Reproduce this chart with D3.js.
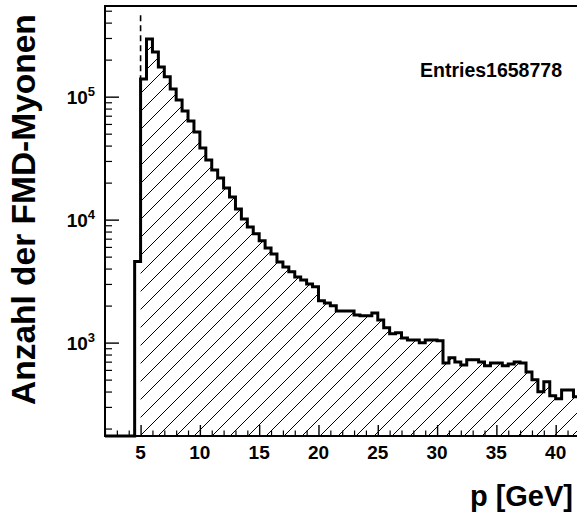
<!DOCTYPE html>
<html><head><meta charset="utf-8">
<script src="https://cdn.jsdelivr.net/npm/d3@7"></script>
<style>
html,body{margin:0;padding:0;background:#fff;}
svg{display:block;font-family:"Liberation Sans",Arial,Helvetica,sans-serif;font-weight:bold;}
</style></head>
<body>
<script>
// ---- data ----
const binStart = 2;       // GeV, low edge of first bin
const binWidth = 0.5;     // GeV
// counts per bin, bins from 2.0 GeV in steps of 0.5 GeV
const counts = [0,0,0,0,0,4560,
  139000,295000,231000,174000,145000,115500,94000,76500,63400,51600,
  38300,30600,25300,21800,18100,15300,12200,10100,8730,7660,
  6720,5890,5260,4530,4120,3760,3420,3235,3000,2840,
  2185,2100,1990,1810,1810,1810,1680,1650,1650,1740,
  1530,1320,1180,1200,1090,1052,1052,995,1052,1052,
  1033,684,752,697,659,724,724,697,647,684,
  684,647,671,697,684,578,498,398,480,369,
  349,412,412,362];
const cutValue = 5;                 // p cut (GeV), hatched above
const cutLineRange = [130000, 460000];
const xDomain = [2, 42];
const yDomain = [174, 546000];
const xMajor = [5,10,15,20,25,30,35,40];
const yMajorExp = [3,4,5];
const entriesLabel = "Entries";
const entriesValue = "1658778";
const xTitle = "p [GeV]";
const yTitle = "Anzahl der FMD-Myonen";

// ---- layout ----
const W = 577, H = 518;
const L = 105, T = 6, R = 579.4, B = 436;

const svg = d3.select("body").append("svg").attr("width", W).attr("height", H);
const x = d3.scaleLinear().domain(xDomain).range([L, R]);
const y = d3.scaleLog().domain(yDomain).range([B, T]);

const defs = svg.append("defs");
defs.append("clipPath").attr("id","clip").append("rect")
  .attr("x", L).attr("y", T).attr("width", R - L).attr("height", B - T + 2);
const pat = defs.append("pattern").attr("id","hatch").attr("patternUnits","userSpaceOnUse")
  .attr("width",18).attr("height",18);
pat.append("path").attr("d","M0,18 L18,0 M-4.5,4.5 L4.5,-4.5 M13.5,22.5 L22.5,13.5")
  .attr("stroke","#000").attr("stroke-width",1);

const bins = counts.map((c,i)=>({lo: binStart + i*binWidth, hi: binStart + (i+1)*binWidth, c}));
const yv = c => c > 0 ? y(c) : B;

// hatched part (p >= cut)
const hb = bins.filter(b => b.lo >= cutValue);
const hpts = [[x(hb[0].lo), B]];
hb.forEach(b => { hpts.push([x(b.lo), yv(b.c)]); hpts.push([x(b.hi), yv(b.c)]); });
hpts.push([x(hb[hb.length-1].hi), B]);
const g = svg.append("g").attr("clip-path","url(#clip)");
g.append("path").attr("d", d3.line()(hpts) + "Z").attr("fill","url(#hatch)").attr("stroke","none");

// outline
const opts = [[x(bins[0].lo), B]];
bins.forEach(b => { opts.push([x(b.lo), yv(b.c)]); opts.push([x(b.hi), yv(b.c)]); });
opts.push([x(bins[bins.length-1].hi), B]);
g.append("path").attr("d", d3.line()(opts)).attr("fill","none").attr("stroke","#000")
  .attr("stroke-width",3).attr("stroke-linejoin","miter");

// dashed cut line
g.append("line").attr("x1", x(cutValue)).attr("x2", x(cutValue))
  .attr("y1", y(cutLineRange[1])).attr("y2", y(cutLineRange[0]))
  .attr("stroke","#000").attr("stroke-width",1.6).attr("stroke-dasharray","6,4");

// frame
svg.append("rect").attr("x",L).attr("y",T).attr("width",R-L).attr("height",B-T)
  .attr("fill","none").attr("stroke","#000").attr("stroke-width",2);

// x axis ticks
const xMinor = d3.range(xDomain[0], xDomain[1]+1, 1).filter(v => !xMajor.includes(v));
svg.append("g").attr("transform",`translate(0,${B})`)
  .call(d3.axisBottom(x).tickValues(xMinor).tickSize(-5.5).tickFormat(""))
  .call(a => a.select(".domain").remove())
  .selectAll("line").attr("stroke-width",1.2);
svg.append("g").attr("transform",`translate(0,${B})`)
  .call(d3.axisBottom(x).tickValues(xMajor).tickSize(-11).tickFormat(""))
  .call(a => a.select(".domain").remove())
  .selectAll("line").attr("stroke-width",1.4);
svg.append("g").selectAll("text").data(xMajor).join("text")
  .attr("x", d => x(d)).attr("y", 459).attr("text-anchor","middle")
  .attr("font-size",19).text(d => d);

// y axis ticks
const yMajor = yMajorExp.map(e => Math.pow(10,e));
const yMinor = [];
[2,3,4,5].forEach(e => { for (let m=2;m<=9;m++){ const v=m*Math.pow(10,e); if (v>=yDomain[0] && v<=yDomain[1]) yMinor.push(v);} });
svg.append("g").attr("transform",`translate(${L},0)`)
  .call(d3.axisLeft(y).tickValues(yMinor).tickSize(-7).tickFormat(""))
  .call(a => a.select(".domain").remove())
  .selectAll("line").attr("stroke-width",1.2);
svg.append("g").attr("transform",`translate(${L},0)`)
  .call(d3.axisLeft(y).tickValues(yMajor).tickSize(-14).tickFormat(""))
  .call(a => a.select(".domain").remove())
  .selectAll("line").attr("stroke-width",1.4);
const yl = svg.append("g").selectAll("text").data(yMajorExp).join("text")
  .attr("x", 95).attr("y", d => y(Math.pow(10,d)) + 7).attr("text-anchor","end")
  .attr("font-size",19);
yl.append("tspan").text("10");
yl.append("tspan").attr("dy",-8).attr("font-size",13).text(d => d);

// stats
svg.append("text").attr("x",562).attr("y",77).attr("text-anchor","end")
  .attr("font-size",19.5).text(entriesLabel + entriesValue);

// titles
svg.append("text").attr("x",573).attr("y",506).attr("text-anchor","end")
  .attr("font-size",29).text(xTitle);
svg.append("text").attr("transform","translate(35,405) rotate(-90)")
  .attr("text-anchor","start").attr("font-size",33.5).text(yTitle);
</script>
</body></html>
